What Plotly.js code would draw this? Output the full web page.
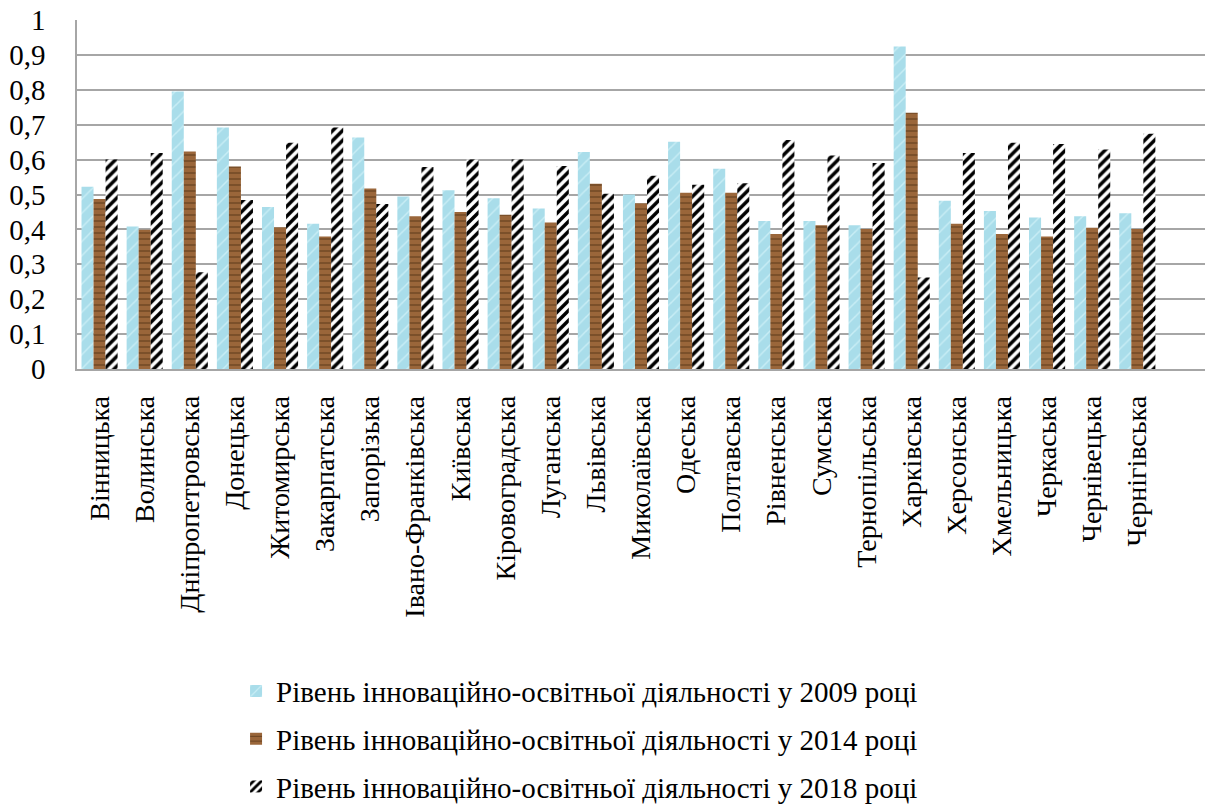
<!DOCTYPE html>
<html>
<head>
<meta charset="utf-8">
<script src="https://cdn.plot.ly/plotly-3.0.1.min.js"></script>
<style>
html,body{margin:0;padding:0;background:#fff;}
#preload{position:absolute;left:-5000px;top:0;font-family:'Times New Roman';font-size:28px;color:#fff;white-space:nowrap;}
</style>
</head>
<body>
<div id="preload">Рівень інноваційно-освітньої діяльності 0,9 Вінницька</div>
<div id="chart" style="width:1206px;height:807px"></div>
<script>
const regions = ["Вінницька","Волинська","Дніпропетровська","Донецька","Житомирська","Закарпатська","Запорізька","Івано-Франківська","Київська","Кіровоградська","Луганська","Львівська","Миколаївська","Одеська","Полтавська","Рівненська","Сумська","Тернопільська","Харківська","Херсонська","Хмельницька","Черкаська","Чернівецька","Чернігівська"];
const level2009 = [0.522,0.408,0.795,0.692,0.464,0.416,0.663,0.494,0.512,0.489,0.460,0.622,0.500,0.651,0.574,0.424,0.424,0.412,0.924,0.482,0.453,0.434,0.438,0.446];
const level2014 = [0.487,0.399,0.623,0.580,0.406,0.380,0.517,0.438,0.450,0.442,0.420,0.531,0.475,0.505,0.505,0.387,0.412,0.401,0.734,0.416,0.387,0.380,0.405,0.401];
const level2018 = [0.600,0.619,0.277,0.484,0.648,0.692,0.473,0.579,0.600,0.600,0.582,0.502,0.554,0.528,0.532,0.656,0.612,0.590,0.262,0.619,0.648,0.645,0.629,0.674];
const seriesNames = ["Рівень інноваційно-освітньої діяльності у 2009 році","Рівень інноваційно-освітньої діяльності у 2014 році","Рівень інноваційно-освітньої діяльності у 2018 році"];

const serif = 'Times New Roman';

const traces = [
  {type:'bar', x:regions, y:level2009, name:seriesNames[0], legendgroup:'a',
   marker:{color:'#A9DDEA', line:{width:0}, pattern:{shape:'/', fgcolor:'#C8EDF5', bgcolor:'#A9DDEA', size:10, solidity:0.15}}},
  {type:'bar', x:regions, y:level2014, name:seriesNames[1], legendgroup:'b',
   marker:{color:'#8E5B31', line:{width:0}, pattern:{shape:'-', fgcolor:'#66401E', bgcolor:'#9A663A', size:6, solidity:0.2}}},
  {type:'bar', x:regions, y:level2018, name:seriesNames[2], legendgroup:'c',
   marker:{color:'#ffffff', line:{width:0}, pattern:{shape:'/', fgcolor:'#000000', bgcolor:'#ffffff', size:7, solidity:0.5}}}
];

const layout = {
  width:1206, height:807,
  margin:{l:77, r:1, t:20, b:438, autoexpand:false},
  paper_bgcolor:'#fff', plot_bgcolor:'#fff',
  separators:', ',
  barmode:'group', bargap:0.2, bargroupgap:0,
  xaxis:{type:'category', range:[-0.5,24.5], tickangle:-90, showgrid:false,
         showline:true, linecolor:'#A6A6A6', linewidth:1.5, ticks:'', ticklabelstandoff:14,
         tickfont:{family:serif, size:28, color:'#000'}, automargin:false},
  yaxis:{range:[0,1], dtick:0.1, tick0:0, showgrid:true, gridcolor:'#A6A6A6', gridwidth:1.5,
         showline:true, linecolor:'#A6A6A6', linewidth:1.5, ticks:'', ticklabelstandoff:24,
         zeroline:false, tickfont:{family:serif, size:29, color:'#000'}, automargin:false},
  legend:{orientation:'v', x:0.141, xanchor:'left', y:-0.85, yanchor:'top',
          font:{family:serif, size:29, color:'#000'}, tracegroupgap:7, itemwidth:30,
          bgcolor:'rgba(0,0,0,0)'},
  showlegend:true
};

Plotly.newPlot('chart', traces, layout, {displayModeBar:false});
</script>
</body>
</html>
